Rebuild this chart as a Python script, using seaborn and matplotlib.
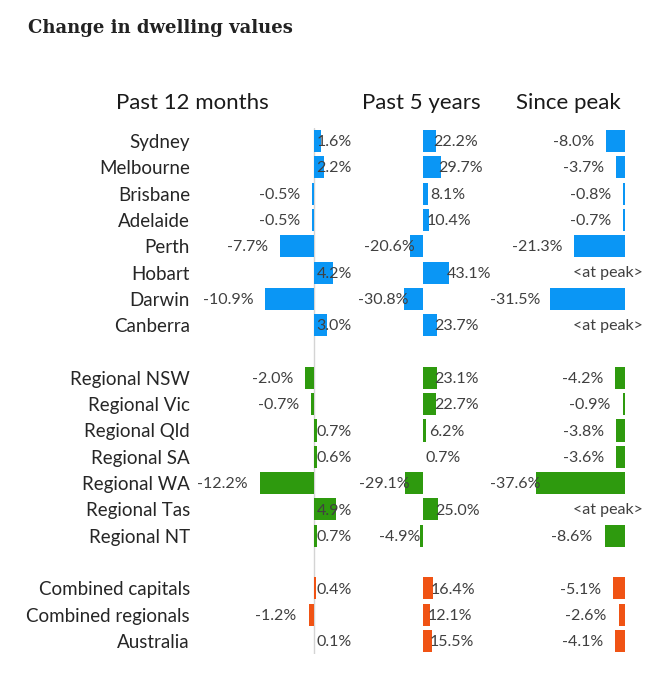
import numpy as np
import pandas as pd
import matplotlib
matplotlib.use("Agg")
import matplotlib.pyplot as plt
import seaborn as sns

sns.set_style("white")
plt.rcParams["font.family"] = ["Lato", "DejaVu Sans"]

# ---- data ----
cities = ["Sydney", "Melbourne", "Brisbane", "Adelaide", "Perth", "Hobart", "Darwin", "Canberra"]
cities_12m = [1.6, 2.2, -0.5, -0.5, -7.7, 4.2, -10.9, 3.0]
cities_5y = [22.2, 29.7, 8.1, 10.4, -20.6, 43.1, -30.8, 23.7]
cities_peak = [-8.0, -3.7, -0.8, -0.7, -21.3, np.nan, -31.5, np.nan]

regions = ["Regional NSW", "Regional Vic", "Regional Qld", "Regional SA",
           "Regional WA", "Regional Tas", "Regional NT"]
regions_12m = [-2.0, -0.7, 0.7, 0.6, -12.2, 4.9, 0.7]
regions_5y = [23.1, 22.7, 6.2, 0.7, -29.1, 25.0, -4.9]
regions_peak = [-4.2, -0.9, -3.8, -3.6, -37.6, np.nan, -8.6]

combined = ["Combined capitals", "Combined regionals", "Australia"]
combined_12m = [0.4, -1.2, 0.1]
combined_5y = [16.4, 12.1, 15.5]
combined_peak = [-5.1, -2.6, -4.1]

panel_titles = ["Past 12 months", "Past 5 years", "Since peak"]

colors = {"capital": "#0A96F5", "regional": "#2E9A0E", "combined": "#F05314"}

df = pd.DataFrame({
    "region": cities + regions + combined,
    "group": ["capital"] * len(cities) + ["regional"] * len(regions) + ["combined"] * len(combined),
    "m12": cities_12m + regions_12m + combined_12m,
    "y5": cities_5y + regions_5y + combined_5y,
    "peak": cities_peak + regions_peak + combined_peak,
})

# blank rows between the groups
order = cities + [" "] + regions + ["  "] + combined
ypos = {name: i for i, name in enumerate(order)}

W, H = 660, 695
fig = plt.figure(figsize=(W / 100, H / 100), dpi=100)

top_px, bot_px = 127.8, 654.2


def px_axes(left, right):
    return fig.add_axes([left / W, 1 - bot_px / H, (right - left) / W, (bot_px - top_px) / H])


# pixel extents and scale (px per %) of each panel
panels = [
    ("m12", 200, 345, 314.0, 4.45),
    ("y5", 355, 470, 422.7, 0.60),
    ("peak", 490, 650, 625.0, 2.38),
]

val_color = "#404040"
val_size = 11.5
pt = 72 / 100  # points per pixel

axes = []
for k, (col, left, right, zero, scale) in enumerate(panels):
    ax = px_axes(left, right)
    axes.append(ax)
    sub = df.dropna(subset=[col])
    sns.barplot(data=sub, x=col, y="region", hue="group", order=order,
                palette=colors, orient="h", width=0.84, dodge=False,
                saturation=1, errorbar=None, legend=False, linewidth=0, ax=ax)
    ax.set_xlim((left - zero) / scale, (right - zero) / scale)
    ax.set_ylim(len(order) - 0.5, -0.5)
    ax.set_xlabel("")
    ax.set_ylabel("")
    ax.set_xticks([])
    for s in ax.spines.values():
        s.set_visible(False)
    if k == 0:
        ax.axvline(0, color="#d4d4d4", lw=1, zorder=0)
        ax.tick_params(axis="y", length=0, pad=10 * pt, labelsize=13.5, labelcolor="#262626")
    else:
        ax.set_yticks([])

    for _, r in df.iterrows():
        v = r[col]
        y = ypos[r["region"]]
        if np.isnan(v):
            ax.annotate("<at peak>", xy=(0, y), xytext=(-17 * pt, -0.5),
                        textcoords="offset points", ha="center", va="center",
                        fontsize=val_size, color=val_color)
            continue
        label = f"{v:.1f}%"
        if col == "m12":
            if v >= 0:
                xy, dx, ha = (0, y), 20, "center"
            else:
                xy, dx, ha = (v, y), -12, "right"
        elif col == "y5":
            xy, dx, ha = (v, y), (20 if v >= 0 else -20.5), "center"
        else:
            xy, dx, ha = (v, y), -12, "right"
            end_px = zero + v * scale - 12
            if end_px - 8.2 * len(label) < left:
                xy, dx, ha = (ax.get_xlim()[0], y), 0, "left"
        ax.annotate(label, xy=xy, xytext=(dx * pt, -0.8),
                    textcoords="offset points", ha=ha, va="center",
                    fontsize=val_size, color=val_color, annotation_clip=False)

# panel headings
for title, xc in zip(panel_titles, [192, 421, 568]):
    fig.text(xc / W, 1 - 103 / H, title, ha="center", va="center",
             fontsize=16, color="#1a1a1a")

fig.text(28 / W, 1 - 28 / H, "Change in dwelling values", ha="left", va="center",
         fontsize=13, fontweight="bold", family="DejaVu Serif", color="#222222")

fig.savefig("out.png", dpi=100)
